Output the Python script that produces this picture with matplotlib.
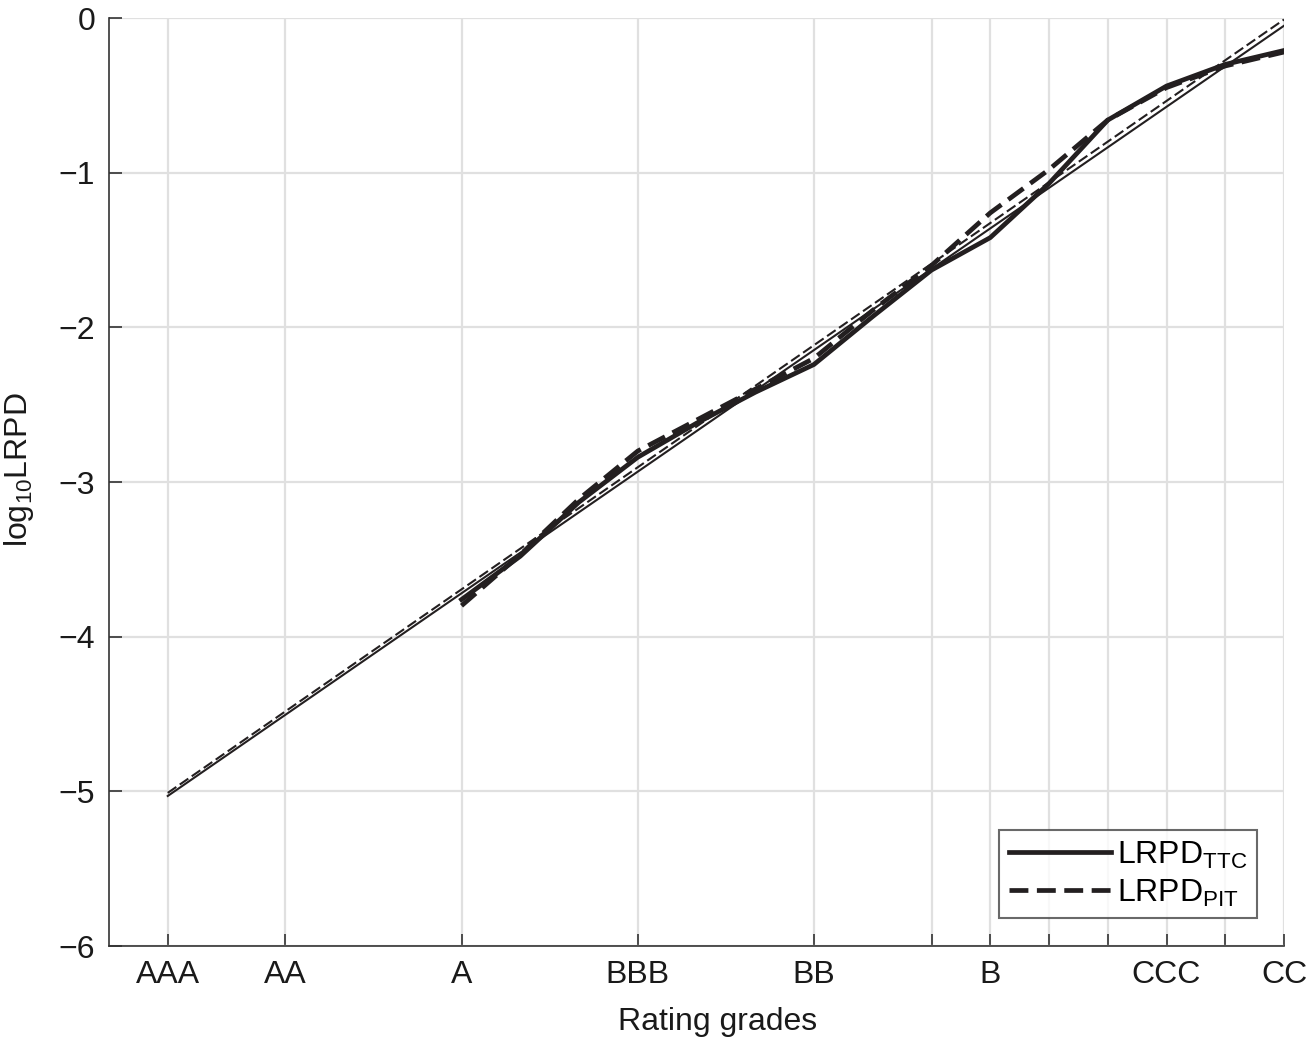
import numpy as np
import matplotlib.pyplot as plt

plt.rcParams['font.family'] = ['Liberation Sans', 'DejaVu Sans']
plt.rcParams['mathtext.fontset'] = 'custom'
plt.rcParams['mathtext.rm'] = 'Liberation Sans'

# Posiciones de las categorías de rating en el eje x
grados = ['AAA', 'AA', 'A', 'BBB', 'BB', 'B', 'CCC', 'CC']
posGrados = [1, 3, 6, 9, 12, 15, 18, 20]
ticksExtra = [14, 16, 17, 19]

# Curvas empíricas (log10 LRPD) desde A hasta CC
xEmp = [6, 7, 8, 9, 10, 11, 12, 13, 14, 15, 16, 17, 18, 19, 20]
lrpdTTC = [-3.76, -3.48, -3.13, -2.84, -2.62, -2.42, -2.24, -1.93, -1.63, -1.42, -1.07, -0.66, -0.44, -0.30, -0.21]
lrpdPIT = [-3.80, -3.47, -3.11, -2.80, -2.60, -2.40, -2.20, -1.89, -1.60, -1.26, -0.98, -0.66, -0.45, -0.31, -0.22]

# Ajustes lineales (líneas finas) AAA..CC
xAjuste = [1, 20]
ajusteTTC = [-5.03, -0.05]
ajustePIT = [-5.01, -0.01]

color = '#231f20'
fs = 23
fig = plt.figure(figsize=(13.09, 10.39), dpi=100)
ax = fig.add_axes([109 / 1309, 1 - 946 / 1039, 1175 / 1309, 928 / 1039])

ax.plot(xAjuste, ajusteTTC, '-', color=color, lw=1.5)
ax.plot(xAjuste, ajustePIT, '--', color=color, lw=1.5, dashes=(5, 2))
ax.plot(xEmp, lrpdTTC, '-', color=color, lw=3.4, label='LRPD$_\\mathregular{TTC}$')
ax.plot(xEmp, lrpdPIT, '--', color=color, lw=3.4, dashes=(4, 1.8),
        label='LRPD$_\\mathregular{PIT}$')

ax.set_xlim(0, 20)
ax.set_ylim(-6, 0)
ax.set_xticks(sorted(posGrados + ticksExtra))
etiquetas = {p: g for p, g in zip(posGrados, grados)}
ax.set_xticklabels([etiquetas.get(p, '') for p in sorted(posGrados + ticksExtra)])
ax.set_yticks(range(-6, 1))
ax.set_yticklabels(['\u22126', '\u22125', '\u22124', '\u22123', '\u22122', '\u22121', '0'])
ax.tick_params(direction='in', length=9, width=1.2, labelsize=fs, colors='#333333',
               labelcolor='#1a1a1a', pad=10)
ax.grid(True, color='#e0e0e0', lw=1.6)
ax.set_axisbelow(True)
for s in ['top', 'right']:
    ax.spines[s].set_visible(False)
for s in ['left', 'bottom']:
    ax.spines[s].set_color('#333333')
    ax.spines[s].set_linewidth(1.2)

ax.set_xlabel('Rating grades', fontsize=fs, color='#1a1a1a')
ax.xaxis.set_label_coords(0.518, -0.066)
ax.set_ylabel('log$_\\mathregular{10}$LRPD', fontsize=fs, color='#1a1a1a')
ax.yaxis.set_label_coords(-0.062, 0.513)

leg = ax.legend(loc='lower right', bbox_to_anchor=(0.977, 0.03), fontsize=fs,
                frameon=True, fancybox=False, handlelength=3.2, handletextpad=0.2,
                borderpad=0.3, labelspacing=0.2, borderaxespad=0)
leg.get_frame().set_edgecolor('#444444')
leg.get_frame().set_linewidth(1.5)

plt.savefig('out.png', dpi=100)
